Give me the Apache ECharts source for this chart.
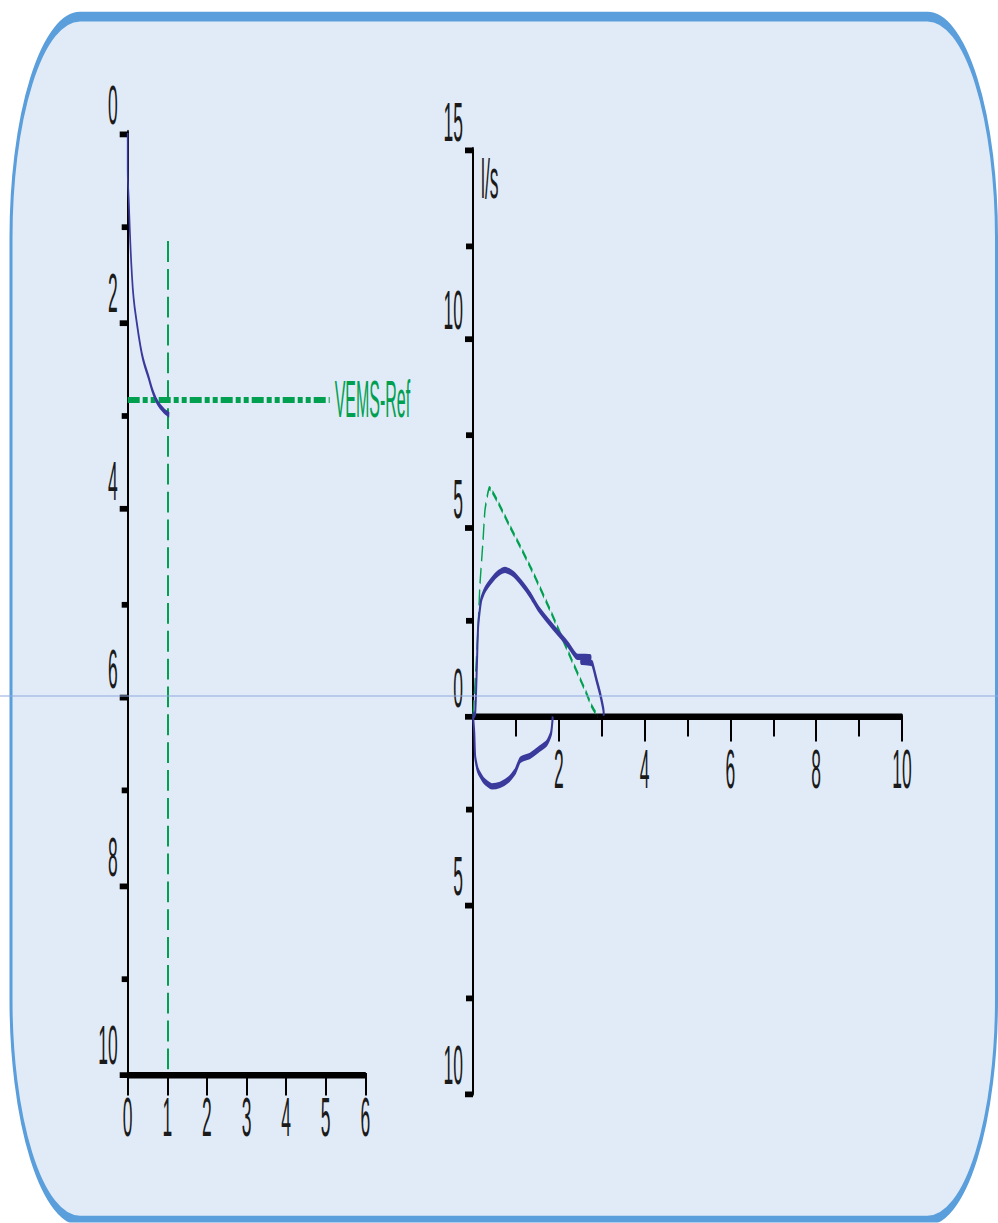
<!DOCTYPE html>
<html>
<head>
<meta charset="utf-8">
<title>Spirométrie</title>
<script src="https://cdn.jsdelivr.net/npm/echarts@6/dist/echarts.min.js"></script>
<style>
  html, body { margin: 0; padding: 0; background: #ffffff; overflow: hidden; }
  #wrap { width: 998px; height: 1223px; position: relative; overflow: hidden; }
  /* the whole sheet is drawn in a flat box and stretched vertically */
  #chart { width: 998px; height: 382.1875px; transform: scale(1, 3.2); transform-origin: 0 0; }
</style>
</head>
<body>
<div id="wrap"><div id="chart"></div></div>
<script>
// Volume-time curve: [time (s), expired volume (l)]
const volumeTime = [
  [0, 0], [0.0, 0.39], [0.03, 0.75], [0.06, 1.10], [0.10, 1.46], [0.15, 1.76],
  [0.23, 2.02], [0.31, 2.24], [0.39, 2.41], [0.52, 2.59], [0.65, 2.77],
  [0.82, 2.91], [1.05, 3.0]
];
// Reference FEV1 level and the 1-second marker
const vemsRef = 2.83;
const vemsRefEnd = 5.1;
const oneSecond = 1;
const oneSecondTop = 1.15;

// Flow-volume loop, expiratory branch: [volume (l), flow (l/s)]
const flowExp = [
  [0, 0], [0.05, 0.07], [0.09, 1.31], [0.12, 2.37], [0.19, 3.07], [0.28, 3.34],
  [0.44, 3.60], [0.59, 3.78], [0.75, 3.87], [0.94, 3.76], [1.13, 3.52],
  [1.33, 3.21], [1.52, 2.85], [1.76, 2.50], [1.99, 2.19], [2.22, 1.88],
  [2.42, 1.57], [2.74, 1.55], [2.52, 1.44], [2.77, 1.40], [2.80, 1.31],
  [2.88, 0.95], [2.96, 0.60], [3.04, 0.16], [3.05, 0]
];
// Inspiratory branch
const flowInsp = [
  [0, 0], [0.03, -0.46], [0.05, -1.08], [0.11, -1.43], [0.24, -1.70],
  [0.44, -1.87], [0.63, -1.83], [0.82, -1.70], [0.98, -1.48], [1.10, -1.17],
  [1.33, -1.06], [1.52, -0.90], [1.72, -0.72], [1.82, -0.46], [1.86, -0.02]
];
// Predicted expiratory flow-volume curve
const flowPred = [
  [0, 0], [0.07, 1.31], [0.12, 2.37], [0.16, 3.45], [0.23, 4.58], [0.28, 5.46],
  [0.38, 6.03], [0.86, 5.02], [1.10, 4.49], [1.37, 3.87], [1.83, 2.72],
  [2.30, 1.48], [2.61, 0.69], [2.77, 0.25], [2.90, 0]
];

// Axis ranges
const timeRange = [0, 6];
const volRange = [0, 10];
const fvVolRange = [0, 10];
const fvFlowRange = [-10, 15];
const flowUnit = 'l/s';
const refLabel = 'VEMS-Ref';

const FONT = 'Liberation Sans, Arial, sans-serif';
const BLUE = '#3a3a9c';
const GREEN = '#00a050';
const INK = '#1a1a1a';

// flow-volume grid geometry (unstretched units)
const fvTop = 46.875, fvHeight = 294.7;
const fvZeroOffset = fvHeight * (0 - fvFlowRange[0]) / (fvFlowRange[1] - fvFlowRange[0]);

const chart = echarts.init(document.getElementById('chart'), null, { renderer: 'svg' });

const axisLineStyle = { color: '#000', width: 2 };
const labelStyle = { color: INK, fontFamily: FONT, fontSize: 17.5 };

chart.setOption({
  animation: false,
  backgroundColor: 'transparent',
  graphic: [
    {
      type: 'rect', z: -10, silent: true,
      shape: { x: 11, y: 5.2, width: 985.5, height: 376.2, r: 69 },
      style: { fill: '#e1ebf7', stroke: '#5a9edc', lineWidth: 3 }
    },
    {
      type: 'line', z: 100, silent: true,
      shape: { x1: 0, y1: 217.5, x2: 998, y2: 217.5 },
      style: { stroke: '#8fa9e0', lineWidth: 0.32 }
    },
    {
      type: 'text', z: 50, silent: true, left: 481, top: 46.6,
      style: { text: flowUnit, fill: INK, font: '17.5px ' + FONT }
    }
  ],
  grid: [
    { left: 127.7, top: 41.56, width: 237.6, height: 293.75 },
    { left: 473, top: fvTop, width: 429, height: fvHeight }
  ],
  xAxis: [
    {
      gridIndex: 0, type: 'value', min: timeRange[0], max: timeRange[1], interval: 1,
      position: 'bottom',
      axisLine: { show: true, onZero: false, lineStyle: axisLineStyle },
      axisTick: { show: true, length: 7, lineStyle: { color: '#000', width: 2 } },
      axisLabel: Object.assign({ margin: 4.5 }, labelStyle),
      splitLine: { show: false }
    },
    {
      // volume axis sits on the zero-flow line
      gridIndex: 1, type: 'value', min: fvVolRange[0], max: fvVolRange[1], interval: 2,
      position: 'bottom', offset: -fvZeroOffset,
      axisLine: { show: true, onZero: false, lineStyle: axisLineStyle },
      axisTick: { show: true, length: 8, lineStyle: { color: '#000', width: 2 } },
      minorTick: { show: true, splitNumber: 2, length: 6.5, lineStyle: { color: '#000', width: 2 } },
      axisLabel: Object.assign({ margin: 7.5, formatter: v => (v === 0 ? '' : String(v)) }, labelStyle),
      splitLine: { show: false },
      minorSplitLine: { show: false }
    }
  ],
  yAxis: [
    {
      gridIndex: 0, type: 'value', min: volRange[0], max: volRange[1], interval: 2, inverse: true,
      axisLine: { show: true, onZero: false, lineStyle: axisLineStyle },
      axisTick: { show: true, length: 8, lineStyle: { color: '#000', width: 1.8 } },
      minorTick: { show: true, splitNumber: 2, length: 6, lineStyle: { color: '#000', width: 1.8 } },
      axisLabel: Object.assign({ margin: 10, verticalAlign: 'bottom' }, labelStyle),
      splitLine: { show: false },
      minorSplitLine: { show: false }
    },
    {
      gridIndex: 1, type: 'value', min: fvFlowRange[0], max: fvFlowRange[1], interval: 5,
      axisLine: { show: true, onZero: false, lineStyle: axisLineStyle },
      axisTick: { show: true, length: 8, lineStyle: { color: '#000', width: 1.8 } },
      minorTick: { show: true, splitNumber: 2, length: 7, lineStyle: { color: '#000', width: 1.8 } },
      axisLabel: Object.assign({ margin: 10, verticalAlign: 'bottom', formatter: v => String(Math.abs(v)) }, labelStyle),
      splitLine: { show: false },
      minorSplitLine: { show: false }
    }
  ],
  series: [
    {
      name: 'Volume', type: 'line', xAxisIndex: 0, yAxisIndex: 0,
      data: volumeTime, showSymbol: false, smooth: 0.45, z: 5,
      lineStyle: { color: BLUE, width: 1.7 },
      markLine: {
        silent: true, symbol: ['none', 'none'], z: 4,
        data: [
          [
            { coord: [oneSecond, oneSecondTop], lineStyle: { color: GREEN, width: 2, type: [6.5, 2.2] }, label: { show: false } },
            { coord: [oneSecond, volRange[1]] }
          ],
          [
            {
              coord: [0, vemsRef],
              lineStyle: { color: GREEN, width: 1.8, type: [12, 3, 5, 3, 5, 3] },
              label: {
                show: true, position: 'end', formatter: refLabel, distance: 5,
                color: GREEN, fontFamily: FONT, fontSize: 16, padding: [0, 0, 4, 0]
              }
            },
            { coord: [vemsRefEnd, vemsRef] }
          ]
        ]
      }
    },
    {
      name: 'Théorique', type: 'line', xAxisIndex: 1, yAxisIndex: 1,
      data: flowPred, showSymbol: false, smooth: 0.15, z: 3,
      lineStyle: { color: GREEN, width: 1.4, type: [5, 2] }
    },
    {
      name: 'Expiration', type: 'line', xAxisIndex: 1, yAxisIndex: 1,
      data: flowExp, showSymbol: false, smooth: 0.2, z: 4,
      lineStyle: { color: BLUE, width: 2 }
    },
    {
      name: 'Inspiration', type: 'line', xAxisIndex: 1, yAxisIndex: 1,
      data: flowInsp, showSymbol: false, smooth: 0.2, z: 4,
      lineStyle: { color: BLUE, width: 2 }
    }
  ]
});
</script>
</body>
</html>
